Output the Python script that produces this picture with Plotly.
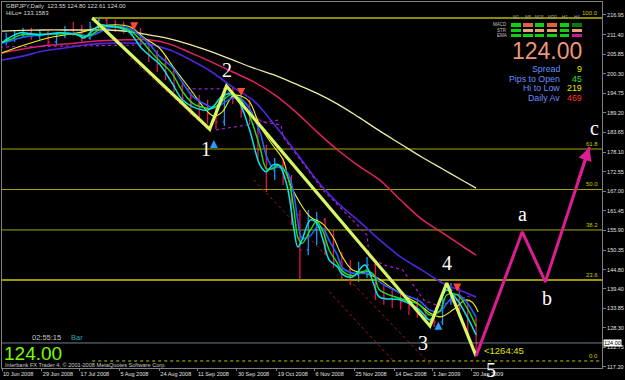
import plotly.graph_objects as go
import pandas as pd

# ---------------- data ----------------
BAR_DATES = pd.date_range("2008-06-12", periods=57, freq="4D")
BAR_OPEN = [209.9, 210.4, 211.3, 211.9, 211.0, 211.9, 209.3, 211.3, 212.7, 211.9,
            210.4, 213.5, 215.5, 214.1, 213.5, 213.0, 211.9, 208.7, 205.6, 203.1,
            200.8, 196.8, 193.4, 191.7, 190.6, 188.9, 186.6, 194.0, 193.4, 189.5,
            187.2, 178.7, 173.0, 174.4, 170.8, 160.3, 150.4, 156.0, 158.9, 151.8,
            147.0, 144.7, 143.3, 144.7, 146.1, 138.4, 136.8, 136.2, 135.6, 134.5,
            132.8, 131.7, 129.9, 136.2, 139.0, 133.9, 130.5]
BAR_HIGH = [211.9, 212.7, 213.3, 213.3, 212.7, 212.4, 212.1, 213.8, 215.0, 214.1,
            215.0, 216.4, 216.1, 215.5, 215.0, 214.4, 213.3, 209.9, 207.0, 205.6,
            201.9, 198.0, 195.1, 194.3, 192.9, 190.6, 195.1, 196.8, 194.3, 192.9,
            187.8, 180.1, 176.4, 176.4, 171.6, 161.7, 161.7, 161.1, 159.4, 156.0,
            149.8, 147.5, 147.0, 148.4, 147.0, 140.4, 139.0, 138.4, 137.3, 136.8,
            134.8, 132.8, 137.6, 141.0, 139.6, 136.2, 131.1]
BAR_LOW = [208.4, 209.3, 210.4, 209.9, 209.9, 208.2, 208.4, 210.4, 211.0, 209.3,
           209.9, 212.7, 212.7, 212.1, 211.6, 211.0, 207.6, 203.6, 200.8, 198.5,
           195.1, 191.4, 188.6, 187.2, 186.1, 184.6, 185.5, 191.7, 187.8, 185.8,
           175.9, 166.8, 170.2, 168.8, 157.4, 141.9, 148.9, 151.8, 148.9, 145.3,
           141.9, 140.4, 141.3, 142.4, 136.2, 134.8, 133.9, 133.4, 131.9, 131.1,
           129.9, 128.5, 129.1, 134.8, 132.8, 125.4, 120.3]
BAR_CLOSE = [210.4, 211.3, 211.9, 211.0, 211.9, 209.3, 211.3, 212.7, 211.9, 210.4,
             213.5, 215.5, 214.1, 213.5, 213.0, 211.9, 208.7, 205.6, 203.1, 200.8,
             196.8, 193.4, 191.7, 190.6, 188.9, 186.6, 194.0, 193.4, 189.5, 187.2,
             178.7, 173.0, 174.4, 170.8, 160.3, 150.4, 156.0, 158.9, 151.8, 147.0,
             144.7, 143.3, 144.7, 146.1, 138.4, 136.8, 136.2, 135.6, 134.5, 132.8,
             131.7, 129.9, 136.2, 139.0, 133.9, 130.5, 124.0]

SLOW_DATES = ["2008-06-10", "2008-06-20", "2008-06-30", "2008-07-10", "2008-07-20",
              "2008-07-30", "2008-08-09", "2008-08-19", "2008-08-29", "2008-09-08",
              "2008-09-18", "2008-09-28", "2008-10-08", "2008-10-18", "2008-10-28",
              "2008-11-07", "2008-11-17", "2008-11-27", "2008-12-07", "2008-12-17",
              "2008-12-27", "2009-01-06", "2009-01-16", "2009-01-22"]
MA_KHAKI = [212.4, 212.6, 212.7, 212.7, 212.7, 212.7, 212.3, 211.3, 210.2, 208.5,
            206.5, 204.2, 201.9, 199.9, 197.4, 194.8, 191.7, 188.0, 184.1, 180.4,
            176.7, 173.3, 169.9, 167.9]
MA_CRIMSON = [206.2, 207.3, 208.2, 208.7, 209.3, 209.7, 209.9, 209.9, 208.7, 206.2,
              203.6, 200.8, 198.0, 194.3, 189.5, 183.9, 178.7, 174.2, 170.2, 164.5,
              159.1, 155.2, 151.2, 148.9]
MA_INDIGO = [204.2, 205.3, 206.8, 207.6, 208.5, 208.9, 209.0, 208.7, 207.0, 204.2,
             200.8, 196.5, 192.6, 185.8, 178.1, 170.2, 163.7, 158.6, 153.2, 148.4,
             144.7, 141.0, 138.5, 137.0]

YEL_DATES = ["2008-06-10", "2008-06-21", "2008-07-04", "2008-07-18", "2008-07-31",
             "2008-08-10", "2008-08-17", "2008-08-24", "2008-08-31", "2008-09-08",
             "2008-09-14", "2008-09-19", "2008-09-23", "2008-09-28", "2008-10-02",
             "2008-10-06", "2008-10-11", "2008-10-17", "2008-10-22", "2008-10-25",
             "2008-10-30", "2008-11-04", "2008-11-10", "2008-11-15", "2008-11-19",
             "2008-11-24", "2008-11-30", "2008-12-06", "2008-12-12", "2008-12-19",
             "2008-12-25", "2008-12-31", "2009-01-05", "2009-01-11", "2009-01-17",
             "2009-01-20", "2009-01-23"]
MA_YELLOW = [206.2, 208.5, 210.7, 212.1, 214.1, 213.6, 210.4, 207.6, 201.9, 195.7,
             190.9, 188.3, 189.5, 194.0, 194.0, 192.3, 185.5, 180.1, 175.9, 169.6,
             163.7, 159.7, 157.7, 153.8, 148.7, 144.7, 143.8, 142.4, 139.9, 137.3,
             135.3, 132.5, 131.4, 133.4, 136.2, 135.6, 132.8]

FAST_DATES = ["2008-06-10", "2008-06-14", "2008-06-19", "2008-06-28", "2008-07-08",
              "2008-07-16", "2008-07-19", "2008-07-22", "2008-07-27", "2008-07-31",
              "2008-08-05", "2008-08-10", "2008-08-15", "2008-08-20", "2008-08-24",
              "2008-08-30", "2008-09-04", "2008-09-09", "2008-09-16", "2008-09-19",
              "2008-09-23", "2008-09-27", "2008-10-01", "2008-10-06", "2008-10-11",
              "2008-10-14", "2008-10-17", "2008-10-20", "2008-10-24", "2008-10-27",
              "2008-10-29", "2008-10-31", "2008-11-04", "2008-11-07", "2008-11-10",
              "2008-11-13", "2008-11-17", "2008-11-19", "2008-11-24", "2008-11-30",
              "2008-12-04", "2008-12-07", "2008-12-17", "2008-12-26", "2008-12-31",
              "2009-01-05", "2009-01-08", "2009-01-13", "2009-01-18", "2009-01-22"]
MA_CYAN = [209.0, 210.7, 211.9, 211.3, 211.9, 211.3, 210.4, 211.9, 214.1, 213.8,
           213.3, 211.9, 207.9, 205.1, 203.1, 197.7, 192.9, 190.9, 190.0, 191.2,
           194.0, 194.6, 192.3, 184.4, 174.4, 172.5, 174.4, 174.4, 168.2, 156.9,
           151.2, 153.2, 158.9, 158.0, 153.2, 147.5, 145.5, 143.6, 142.7, 146.1,
           141.0, 137.0, 136.2, 133.4, 130.5, 136.2, 139.0, 136.2, 131.1, 126.3]
MA_GREEN = [209.3, 210.0, 211.3, 211.5, 211.6, 211.5, 210.9, 211.2, 213.0, 213.9,
            213.5, 212.5, 209.9, 206.5, 204.0, 200.4, 195.3, 191.9, 190.5, 190.6,
            192.6, 194.3, 193.4, 188.3, 179.4, 173.4, 173.4, 174.4, 171.3, 162.5,
            154.0, 152.2, 156.0, 158.4, 155.6, 150.3, 146.5, 144.5, 143.1, 144.4,
            143.5, 139.0, 136.6, 134.8, 131.9, 133.3, 137.6, 137.6, 133.6, 128.7]
MA_BLUE = [209.0, 209.6, 210.5, 211.3, 211.7, 211.6, 211.2, 211.0, 212.2, 213.3,
           213.7, 213.0, 211.0, 208.2, 205.3, 202.2, 197.9, 193.8, 191.3, 190.7,
           191.8, 193.2, 193.6, 190.4, 183.7, 177.1, 173.8, 173.8, 172.4, 166.5,
           158.7, 153.7, 154.4, 156.7, 156.5, 153.0, 148.7, 145.5, 143.8, 143.7,
           143.3, 141.3, 138.1, 135.9, 133.3, 133.0, 135.2, 137.8, 135.1, 131.2]

STOP_DATES = ["2008-09-06", "2008-09-24", "2008-10-12", "2008-10-21", "2008-10-22",
              "2008-11-10", "2008-12-01", "2008-12-02", "2008-12-09", "2008-12-18",
              "2008-12-28", "2009-01-04", "2009-01-19"]
STOP_PRICES = [196.0, 196.0, 186.6, 185.8, 182.4, 167.4, 154.6, 148.4, 146.1, 144.7,
               136.2, 134.5, 137.3]
STOP0_DATES = ["2008-06-09", "2008-08-12"]
STOP0_PRICES = [207.9, 208.4]
STOP2_DATES = ["2008-09-20", "2008-10-20"]
STOP2_PRICES = [184.4, 187.2]

CHAN1_DATES = ["2008-08-10", "2008-09-19"]
CHAN1_PRICES = [204.8, 182.9]
CHAN2_DATES = ["2008-10-08", "2008-12-31"]
CHAN2_PRICES = [170.2, 118.0]
CHAN3_DATES = ["2008-11-13", "2008-12-14"]
CHAN3_PRICES = [138.5, 118.6]

WAVE_DATES = ["2008-07-23", "2008-09-17", "2008-09-25", "2008-12-31", "2009-01-08", "2009-01-22"]
WAVE_PRICES = [216.1, 184.6, 196.8, 128.8, 141.0, 120.3]
WAVE_LABELS = ["", "1", "2", "3", "4", "5"]
PROJ_DATES = ["2009-01-22", "2009-02-13", "2009-02-24", "2009-03-17"]
PROJ_PRICES = [120.3, 155.5, 141.3, 179.5]
PROJ_LABELS = ["", "a", "b", "c"]

FIB_HIGH = 216.1
FIB_LOW = 118.9
FIB_START = "2008-07-23"
FIB_RATIOS = [0.0, 23.6, 38.2, 50.0, 61.8, 100.0]

UP_ARROW_DATES = ["2008-09-19", "2009-01-04"]
UP_ARROW_PRICES = [181.5, 130.0]
DOWN_ARROW_DATES = ["2008-08-12", "2008-10-02", "2009-01-13"]
DOWN_ARROW_PRICES = [212.6, 194.0, 138.6]

BID = 124.00
X_TICKS = ["2008-06-10", "2008-06-29", "2008-07-17", "2008-08-05", "2008-08-24",
           "2008-09-11", "2008-09-30", "2008-10-19", "2008-11-06", "2008-11-25",
           "2008-12-14", "2009-01-01", "2009-01-20"]
X_TICK_TEXT = ["10 Jun 2008", "29 Jun 2008", "17 Jul 2008", "5 Aug 2008", "24 Aug 2008",
               "11 Sep 2008", "30 Sep 2008", "19 Oct 2008", "6 Nov 2008", "25 Nov 2008",
               "14 Dec 2008", "1 Jan 2009", "20 Jan 2009"]
Y_TICKS = [216.95, 211.40, 205.85, 200.30, 194.75, 189.20, 183.65, 178.10, 172.55,
           167.00, 161.45, 155.90, 150.35, 144.80, 139.40, 133.85, 128.30, 122.75, 117.20]
X_RANGE = ["2008-06-10", "2009-03-23"]
Y_RANGE = [116.91, 220.63]

# ---------------- layout helpers ----------------
W, H = 625, 380
ML, MR, MT, MB = 2, 23, 2, 12
PW, PH = W - ML - MR, H - MT - MB


def pxx(px):
    return (px - ML) / PW


def pxy(py):
    return 1 - (py - MT) / PH


FONT = "Liberation Sans"
SERIF = "Liberation Serif"

fig = go.Figure()

# fib levels (background)
for r in FIB_RATIOS:
    lvl = FIB_LOW + r / 100.0 * (FIB_HIGH - FIB_LOW)
    x0 = FIB_START if r in (0.0, 100.0) else X_RANGE[0]
    if r == 100.0:
        st = dict(color="#8c8c00", width=2)
    elif r == 0.0:
        st = dict(color="#c8c800", width=1, dash="dot")
    elif r == 23.6:
        st = dict(color="#9a9a00", width=2)
    else:
        st = dict(color="#a8a800", width=1)
    fig.add_trace(go.Scatter(x=[x0, X_RANGE[1]], y=[lvl, lvl], mode="lines", line=st,
                             hoverinfo="skip"))
    fig.add_annotation(x=0.997, xref="paper", y=lvl, yref="y", text=f"{r:.1f}",
                       showarrow=False, xanchor="right", yanchor="bottom",
                       font=dict(family=FONT, size=6, color="#c8c800"))

# bid line
fig.add_trace(go.Scatter(x=X_RANGE, y=[BID, BID], mode="lines",
                         line=dict(color="#6f7f8f", width=1), hoverinfo="skip"))

# channel dotted lines
for dts, prs in [(CHAN1_DATES, CHAN1_PRICES), (CHAN2_DATES, CHAN2_PRICES), (CHAN3_DATES, CHAN3_PRICES)]:
    fig.add_trace(go.Scatter(x=dts, y=prs, mode="lines",
                             line=dict(color="#a01818", width=1, dash="dot")))

# slow moving averages
fig.add_trace(go.Scatter(x=SLOW_DATES, y=MA_KHAKI, mode="lines", line_shape="spline",
                         line=dict(color="#eeeaa0", width=1.3)))
fig.add_trace(go.Scatter(x=SLOW_DATES, y=MA_CRIMSON, mode="lines", line_shape="spline",
                         line=dict(color="#e0206a", width=1.5)))
fig.add_trace(go.Scatter(x=SLOW_DATES, y=MA_INDIGO, mode="lines", line_shape="spline",
                         line=dict(color="#5024e0", width=1.6)))

# price bars
fig.add_trace(go.Ohlc(x=BAR_DATES, open=BAR_OPEN, high=BAR_HIGH, low=BAR_LOW, close=BAR_CLOSE,
                      increasing=dict(line=dict(color="#1e90ff", width=1.3)),
                      decreasing=dict(line=dict(color="#e0105a", width=1.3)),
                      tickwidth=0.2))

# stepped dotted stop lines
for dts, prs in [(STOP_DATES, STOP_PRICES), (STOP0_DATES, STOP0_PRICES), (STOP2_DATES, STOP2_PRICES)]:
    fig.add_trace(go.Scatter(x=dts, y=prs, mode="lines",
                             line=dict(color="#a020d0", width=1.2, dash="dot")))

# fast moving averages
fig.add_trace(go.Scatter(x=YEL_DATES, y=MA_YELLOW, mode="lines", line_shape="spline",
                         line=dict(color="#f0f020", width=1.1)))
fig.add_trace(go.Scatter(x=FAST_DATES, y=MA_BLUE, mode="lines", line_shape="spline",
                         line=dict(color="#2060ff", width=1.6)))
fig.add_trace(go.Scatter(x=FAST_DATES, y=MA_GREEN, mode="lines", line_shape="spline",
                         line=dict(color="#20e020", width=1.4)))
fig.add_trace(go.Scatter(x=FAST_DATES, y=MA_CYAN, mode="lines", line_shape="spline",
                         line=dict(color="#00e8e8", width=1.5)))

# elliott wave + projection
fig.add_trace(go.Scatter(x=WAVE_DATES, y=WAVE_PRICES, mode="lines",
                         line=dict(color="#d8f564", width=3.2)))
fig.add_trace(go.Scatter(x=PROJ_DATES, y=PROJ_PRICES, mode="lines",
                         line=dict(color="#dd1d94", width=3)))
fig.add_annotation(x=PROJ_DATES[-1], y=PROJ_PRICES[-1], ax=-12, ay=36, text="",
                   showarrow=True, arrowhead=2, arrowsize=0.9, arrowwidth=3,
                   arrowcolor="#dd1d94")

# signal arrows
fig.add_trace(go.Scatter(x=UP_ARROW_DATES, y=UP_ARROW_PRICES, mode="markers",
                         marker=dict(symbol="arrow-up", size=8, color="#2a9cff")))
fig.add_trace(go.Scatter(x=DOWN_ARROW_DATES, y=DOWN_ARROW_PRICES, mode="markers",
                         marker=dict(symbol="arrow-down", size=8, color="#ff4a3a")))

# wave labels
wave_shift = {"1": (-4, -20), "2": (1, 16), "3": (-7, -17), "4": (0, 20), "5": (15, -14)}
for d, p, t in zip(WAVE_DATES, WAVE_PRICES, WAVE_LABELS):
    if t:
        dx, dy = wave_shift[t]
        fig.add_annotation(x=d, y=p, text=t, showarrow=False, xshift=dx, yshift=dy,
                           font=dict(family=SERIF, size=20, color="white"))
proj_shift = {"a": (0, 18), "b": (2, -16), "c": (5, 19)}
for d, p, t in zip(PROJ_DATES, PROJ_PRICES, PROJ_LABELS):
    if t:
        dx, dy = proj_shift[t]
        fig.add_annotation(x=d, y=p, text=t, showarrow=False, xshift=dx, yshift=dy,
                           font=dict(family=SERIF, size=20, color="white"))


def ptext(px, py, text, size, color, anchor="left", family=FONT):
    fig.add_annotation(x=pxx(px), y=pxy(py), xref="paper", yref="paper", text=text,
                       showarrow=False, xanchor=anchor, yanchor="middle",
                       font=dict(family=family, size=size, color=color))


# header
ptext(4, 6, "GBPJPY,Daily  123.55 124.80 122.61 124.00", 6, "#d8d8d8")
ptext(4, 13, "HiLo= 133.1583", 6, "#d8d8d8")

# indicator panel
cols = ["M1", "M5", "M15", "M30", "H1", "H4"]
col_x = [(511, 521), (523, 533), (535, 544), (547, 557), (560, 569), (572, 582)]
rows = [("MACD", (23, 27), ["#10d010", "#e06048", "#10d010", "#e06048", "#10d010", "#0a7a0a"]),
        ("STR", (29, 32), ["#10d010", "#e8a888", "#e8a070", "#e8a070", "#10d010", "#e8a070"]),
        ("EMA", (34, 37), ["#10d010", "#10d010", "#10d010", "#10d010", "#10d010", "#c8189c"])]
for c, (a, b) in zip(cols, col_x):
    ptext((a + b) / 2, 17, c, 4.5, "#a0a0a0", anchor="center")
for name, (y0, y1), colors in rows:
    ptext(509, (y0 + y1) / 2, name, 4.5, "#c0c0c0", anchor="right")
    for (a, b), colr in zip(col_x, colors):
        fig.add_shape(type="rect", xref="paper", yref="paper", x0=pxx(a), x1=pxx(b),
                      y0=pxy(y1), y1=pxy(y0), fillcolor=colr, line=dict(width=0))

ptext(547, 51, "124.00", 23, "#e9967a", anchor="center")
stats = [("Spread", "9", "#e6e600", 69), ("Pips to Open", "45", "#30e030", 78.5),
         ("Hi to Low", "219", "#e6e600", 88), ("Daily Av", "469", "#ff3030", 97.5)]
for lab, val, vc, yy in stats:
    ptext(562, yy, lab, 8.8, "#6a8cff", anchor="right")
    ptext(584, yy, val, 8.8, vc, anchor="right")

# bottom-left info
ptext(30, 337, "02:55:15", 7.5, "#c8c8c8")
ptext(69, 337, "Bar", 7.5, "#20a8a8")
ptext(2, 353.5, "124.00", 19, "#7cfc00")
ptext(3, 364.5, "Interbank FX Trader 4, \u00a9 2001-2008 MetaQuotes Software Corp.", 5.6, "#c8c8c8")

# countdown text
ptext(482, 350, "<1264:45", 9.5, "#e0e010")

# current price box on axis
fig.add_annotation(x=1, xref="paper", y=BID, yref="y", xanchor="left", xshift=1,
                   text="124.00", showarrow=False, bgcolor="white", borderpad=0,
                   font=dict(family=FONT, size=5.5, color="black"))

fig.update_layout(
    width=W, height=H, margin=dict(l=ML, r=MR, t=MT, b=MB),
    paper_bgcolor="black", plot_bgcolor="black", showlegend=False, hovermode=False,
    xaxis=dict(type="date", range=X_RANGE, showgrid=False, zeroline=False,
               showline=True, linecolor="#808080", linewidth=1, mirror=True,
               ticks="outside", ticklen=2, tickcolor="#808080", tickangle=0,
               tickvals=X_TICKS, ticktext=X_TICK_TEXT, ticklabelposition="outside right",
               ticklabelstandoff=0,
               tickfont=dict(family=FONT, size=5.5, color="#e0e0e0"),
               rangeslider=dict(visible=False), automargin=False),
    yaxis=dict(side="right", range=Y_RANGE, showgrid=False, zeroline=False,
               showline=True, linecolor="#808080", linewidth=1, mirror=True,
               ticks="outside", ticklen=3, tickcolor="#808080",
               tickvals=Y_TICKS, ticktext=[f"{v:.2f}" for v in Y_TICKS],
               tickfont=dict(family=FONT, size=5.5, color="#e0e0e0"), automargin=False),
)

fig.write_html("out.html")
